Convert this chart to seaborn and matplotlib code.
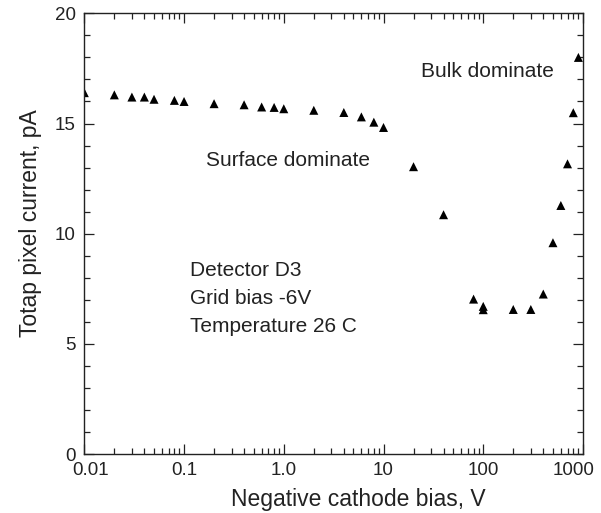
import numpy as np
import pandas as pd
import matplotlib
matplotlib.use('Agg')
import matplotlib.pyplot as plt
import matplotlib.ticker as mticker
import matplotlib.transforms as mtransforms
import seaborn as sns

bias_v = [0.01, 0.02, 0.03, 0.04, 0.05, 0.08, 0.1, 0.2, 0.4, 0.6, 0.8, 1.0,
          2, 4, 6, 8, 10, 20, 40, 80, 100, 100, 200, 300, 400, 500, 600,
          700, 800, 900]
current_pa = [16.4, 16.3, 16.2, 16.2, 16.1, 16.05, 16.0, 15.9, 15.85, 15.75,
              15.73, 15.67, 15.6, 15.5, 15.3, 15.06, 14.82, 13.04, 10.86,
              7.03, 6.55, 6.7, 6.56, 6.56, 7.26, 9.59, 11.28, 13.17, 15.49,
              18.0]
xtick_vals = [0.01, 0.1, 1, 10, 100, 1000]
xtick_labels = ['0.01', '0.1', '1.0', '10', '100', '1000']

df = pd.DataFrame({'bias': bias_v, 'current': current_pa})

sns.set_style('ticks')
plt.rcParams['font.family'] = ['Liberation Sans', 'DejaVu Sans']

fig = plt.figure(figsize=(6.01, 5.13), dpi=100)
ax = fig.add_axes([0.1403, 0.115, 0.8297, 0.859])

sns.scatterplot(data=df, x='bias', y='current', marker='^', color='black',
                s=42, edgecolor='none', ax=ax, legend=False)

ax.set_xscale('log')
ax.set_xlim(0.01, 1000)
ax.set_ylim(0, 20)
ax.xaxis.set_major_locator(mticker.FixedLocator(xtick_vals))
ax.xaxis.set_major_formatter(mticker.FixedFormatter(xtick_labels))
ax.xaxis.set_minor_locator(mticker.LogLocator(base=10, subs=np.arange(2, 10)))
ax.xaxis.set_minor_formatter(mticker.NullFormatter())
ax.yaxis.set_major_locator(mticker.MultipleLocator(5))
ax.yaxis.set_minor_locator(mticker.MultipleLocator(1))

ax.tick_params(which='both', direction='in', top=True, right=True,
               labelsize=13.5, colors='#222222', width=0.9)
ax.tick_params(which='major', length=7, pad=6)
ax.tick_params(which='minor', length=4)
for s in ax.spines.values():
    s.set_linewidth(1.0)
    s.set_color('#222222')

# nudge the end labels inward like the original
xlabels = ax.get_xticklabels()
xlabels[0].set_transform(xlabels[0].get_transform() +
                         mtransforms.ScaledTranslation(0.06, 0, fig.dpi_scale_trans))
xlabels[-1].set_transform(xlabels[-1].get_transform() +
                          mtransforms.ScaledTranslation(-0.09, 0, fig.dpi_scale_trans))

ax.set_xlabel('Negative cathode bias, V', fontsize=16.5, color='#222222', labelpad=6)
ax.set_ylabel('Totap pixel current, pA', fontsize=16.5, color='#222222', labelpad=9)
ax.xaxis.label.set_x(0.549)
ax.yaxis.label.set_y(0.524)

ax.text(0.166, 13.34, 'Surface dominate', fontsize=15, color='#222222', va='center')
ax.text(24, 17.35, 'Bulk dominate', fontsize=15, color='#222222', va='center')
ax.text(0.115, 7.08, 'Detector D3\nGrid bias -6V\nTemperature 26 C', fontsize=15,
        color='#222222', va='center', linespacing=1.6)

fig.savefig('out.png', dpi=100)
